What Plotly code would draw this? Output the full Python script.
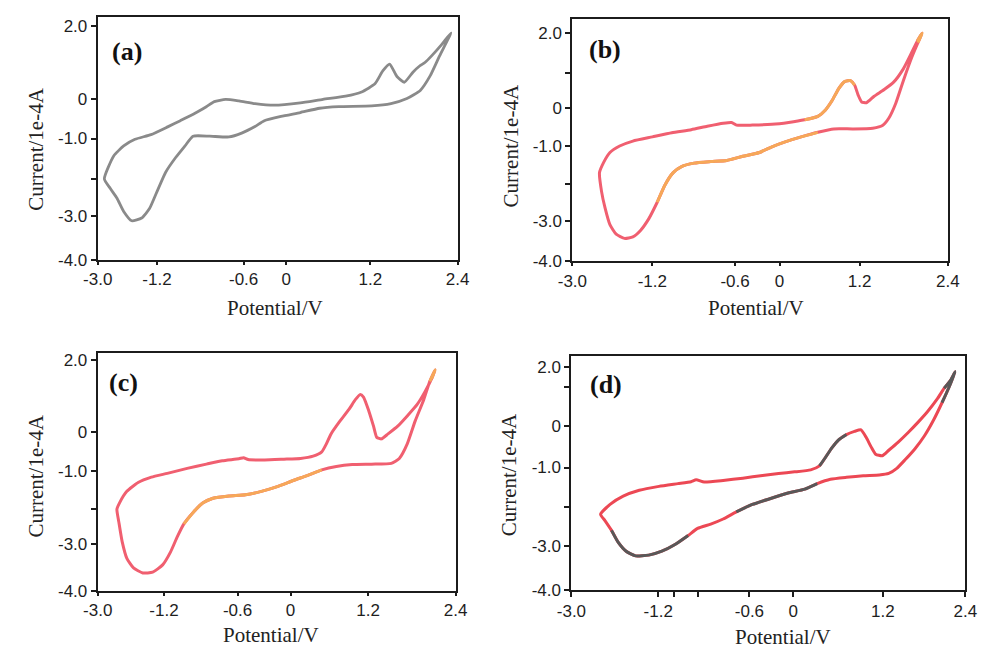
import plotly.graph_objects as go

# ---------------- cyclic voltammograms (potential in V, current in 1e-4 A) -------------
# (a) bare electrode
a_pot = [-2.90, -2.81, -2.71, -2.61, -2.49, -2.34, -2.22, -2.10, -1.98, -1.83, -1.69, -1.57,
         -1.32, -1.03, -0.84, -0.64, -0.50, -0.25, 0.04, 0.33, 0.62, 1.11, 1.40, 1.64, 1.84,
         1.99, 2.13, 2.30,
         2.16, 2.01, 1.91, 1.83, 1.73, 1.60, 1.49, 1.38, 1.28, 1.16, 0.96, 0.72, 0.38, 0.04,
         -0.35, -0.64, -0.88, -1.08, -1.25, -1.37, -1.54, -1.76, -1.95, -2.20, -2.44, -2.61,
         -2.76, -2.90]
a_cur = [-1.91, -2.16, -2.41, -2.75, -2.99, -2.92, -2.67, -2.20, -1.74, -1.36, -1.06, -0.81,
         -0.81, -0.83, -0.73, -0.56, -0.41, -0.30, -0.20, -0.09, -0.05, -0.03, 0.03, 0.16, 0.37,
         0.75, 1.26, 1.85,
         1.55, 1.26, 1.09, 1.00, 0.84, 0.58, 0.73, 1.05, 0.88, 0.54, 0.33, 0.22, 0.14, 0.05,
         -0.01, 0.03, 0.10, 0.14, 0.08, -0.05, -0.22, -0.41, -0.57, -0.77, -0.89, -1.06,
         -1.32, -1.91]

# (b)
b_pot = [-2.61, -2.58, -2.53, -2.46, -2.37, -2.25, -2.13, -2.02, -1.90, -1.78, -1.67, -1.55,
         -1.43, -1.25, -1.01, -0.78, -0.55, -0.31, -0.13, 0.06, 0.29, 0.53, 0.76, 1.04, 1.32,
         1.46, 1.55, 1.65, 1.76, 1.88, 1.97, 2.03,
         1.96, 1.88, 1.76, 1.62, 1.48, 1.34, 1.23, 1.16, 1.11, 1.06, 1.00, 0.92, 0.83, 0.74,
         0.64, 0.53, 0.34, 0.11, -0.13, -0.41, -0.64, -0.71, -0.83, -1.06, -1.29, -1.57,
         -1.85, -2.13, -2.32, -2.46, -2.55, -2.61]
b_cur = [-1.67, -2.17, -2.60, -3.04, -3.29, -3.40, -3.36, -3.19, -2.88, -2.45, -2.00, -1.67,
         -1.51, -1.42, -1.38, -1.35, -1.24, -1.14, -0.99, -0.86, -0.73, -0.61, -0.52, -0.52,
         -0.50, -0.43, -0.24, 0.15, 0.75, 1.36, 1.75, 2.00,
         1.79, 1.49, 1.06, 0.71, 0.51, 0.34, 0.17, 0.19, 0.37, 0.63, 0.75, 0.73, 0.54, 0.24,
         -0.02, -0.19, -0.28, -0.35, -0.40, -0.42, -0.42, -0.35, -0.37, -0.45, -0.54, -0.62,
         -0.73, -0.84, -0.97, -1.14, -1.40, -1.67]

# (c)
c_pot = [-2.71, -2.68, -2.63, -2.56, -2.46, -2.32, -2.17, -2.02, -1.90, -1.80, -1.70, -1.56,
         -1.41, -1.26, -1.02, -0.77, -0.53, -0.28, -0.04, 0.16, 0.38, 0.60, 0.84, 1.13, 1.43,
         1.55, 1.67, 1.79, 1.92, 2.01, 2.09,
         2.04, 1.94, 1.82, 1.67, 1.53, 1.38, 1.28, 1.21, 1.16, 1.09, 1.01, 0.96, 0.89, 0.79,
         0.64, 0.52, 0.45, 0.38, 0.25, 0.06, -0.19, -0.48, -0.73, -0.80, -0.87, -1.12, -1.36,
         -1.65, -1.95, -2.19, -2.39, -2.56, -2.67, -2.71]
c_cur = [-1.88, -2.22, -2.73, -3.16, -3.41, -3.54, -3.52, -3.33, -2.99, -2.60, -2.26, -1.96,
         -1.71, -1.59, -1.53, -1.50, -1.41, -1.28, -1.12, -1.00, -0.85, -0.76, -0.71, -0.70,
         -0.68, -0.55, -0.17, 0.43, 0.99, 1.46, 1.76,
         1.54, 1.20, 0.86, 0.56, 0.30, 0.09, -0.04, 0.00, 0.30, 0.69, 1.05, 1.12, 0.99, 0.73,
         0.39, 0.09, -0.17, -0.38, -0.49, -0.55, -0.57, -0.59, -0.58, -0.53, -0.56, -0.61,
         -0.70, -0.81, -0.94, -1.04, -1.18, -1.41, -1.71, -1.88]

# (d)
d_pot = [-2.60, -2.54, -2.45, -2.36, -2.25, -2.12, -1.94, -1.76, -1.58, -1.40, -1.27, -1.09,
         -0.92, -0.74, -0.52, -0.29, -0.03, 0.20, 0.37, 0.55, 0.77, 1.00, 1.22, 1.35, 1.46,
         1.57, 1.71, 1.84, 1.97, 2.08, 2.17, 2.26,
         2.20, 2.11, 2.02, 1.88, 1.75, 1.62, 1.48, 1.35, 1.26, 1.17, 1.11, 1.04, 0.97, 0.88,
         0.77, 0.66, 0.57, 0.48, 0.40, 0.28, 0.06, -0.16, -0.38, -0.65, -0.92, -1.18, -1.29,
         -1.36, -1.54, -1.80, -2.07, -2.29, -2.47, -2.60]
d_cur = [-2.07, -2.23, -2.48, -2.78, -3.01, -3.13, -3.11, -3.01, -2.84, -2.61, -2.43, -2.32,
         -2.19, -2.01, -1.82, -1.68, -1.53, -1.43, -1.29, -1.18, -1.13, -1.09, -1.07, -1.03,
         -0.90, -0.69, -0.40, -0.07, 0.35, 0.77, 1.14, 1.56,
         1.35, 1.14, 0.88, 0.54, 0.27, 0.02, -0.23, -0.44, -0.58, -0.54, -0.36, -0.11, 0.08,
         0.04, -0.04, -0.18, -0.38, -0.63, -0.84, -0.94, -0.99, -1.03, -1.08, -1.15, -1.21,
         -1.25, -1.19, -1.24, -1.29, -1.36, -1.46, -1.61, -1.82, -2.07]

# ---------------- axis tick labels ----------------
x_ticktext = ["-3.0", "-1.2", "-0.6", "0", "1.2", "2.4"]
a_xtickvals = [-3.0, -2.11, -0.81, -0.17, 1.09, 2.4]
b_xtickvals = [-3.0, -1.85, -0.66, -0.02, 1.13, 2.4]
c_xtickvals = [-3.0, -2.00, -0.89, -0.09, 1.08, 2.4]
d_xtickvals = [-3.0, -1.81, -1.59, -1.27, -0.56, 0.04, 1.27, 2.4]
d_xticktext = ["-3.0", "-1.2", "", "", "-0.6", "0", "1.2", "2.4"]

a_ytickvals = [2.02, 0.14, -0.87, -1.91, -2.87, -4.0]
a_yticktext = ["2.0", "0", "-1.0", "", "-3.0", "-4.0"]
b_ytickvals = [2.0, 0.96, 0.03, -0.98, -1.96, -2.94, -4.0]
b_yticktext = ["2.0", "", "0", "-1.0", "", "-3.0", "-4.0"]
c_ytickvals = [2.01, 0.13, -0.88, -1.86, -2.78, -4.0]
c_yticktext = ["2.0", "0", "-1.0", "", "-3.0", "-4.0"]
d_ytickvals = [1.68, 1.18, 0.18, -0.88, -1.88, -2.88, -4.0]
d_yticktext = ["2.0", "", "0", "-1.0", "", "-3.0", "-4.0"]

y_tops = {"a": 2.27, "b": 2.38, "c": 2.19, "d": 1.95}

RED = "rgb(240,95,112)"
RED_D = "rgb(236,72,84)"
ORANGE = "rgb(246,168,88)"
GRAY_A = "rgb(138,138,138)"
GRAY_D = "rgb(88,88,88)"

fig = go.Figure()


def add_curve(xs, ys, color, xa, ya, width=3):
    fig.add_trace(go.Scatter(x=xs, y=ys, mode="lines", xaxis=xa, yaxis=ya,
                             line=dict(color=color, width=width, shape="spline", smoothing=0.5),
                             showlegend=False, hoverinfo="skip"))


def add_sections(xs, ys, spans, color, xa, ya):
    for i0, i1 in spans:
        add_curve(xs[i0:i1 + 1], ys[i0:i1 + 1], color, xa, ya)


# (a)
add_curve(a_pot, a_cur, GRAY_A, "x", "y", width=2.8)
# (b)
add_curve(b_pot, b_cur, RED, "x2", "y2")
add_sections(b_pot, b_cur, [(9, 21), (41, 48), (30, 32)], ORANGE, "x2", "y2")
# (c)
add_curve(c_pot, c_cur, RED, "x3", "y3")
add_sections(c_pot, c_cur, [(10, 20), (29, 31)], ORANGE, "x3", "y3")
# (d)
add_curve(d_pot, d_cur, RED_D, "x4", "y4")
add_sections(d_pot, d_cur, [(2, 9), (13, 18), (46, 50), (29, 33)], GRAY_D, "x4", "y4")

# ---------------- layout ----------------
W, H = 990, 657
frames = {  # left, right, top, bottom in pixels
    "a": (85, 455, 15, 262.7),
    "b": (573, 959, 17, 264),
    "c": (85, 453, 358, 599.5),
    "d": (572, 977, 361, 599),
}
xticks = {"a": (a_xtickvals, x_ticktext), "b": (b_xtickvals, x_ticktext),
          "c": (c_xtickvals, x_ticktext), "d": (d_xtickvals, d_xticktext)}
yticks = {"a": (a_ytickvals, a_yticktext), "b": (b_ytickvals, b_yticktext),
          "c": (c_ytickvals, c_yticktext), "d": (d_ytickvals, d_yticktext)}

AX = "#1c1c1c"
tickfont = dict(family="Liberation Sans, Arial, sans-serif", size=17, color="#1e1e1e")
layout = dict(width=W, height=H, margin=dict(l=0, r=0, t=0, b=0),
              paper_bgcolor="white", plot_bgcolor="white", showlegend=False)

for k, key in enumerate(["a", "b", "c", "d"]):
    l, r, t, b = frames[key]
    sfx = "" if k == 0 else str(k + 1)
    layout["xaxis" + sfx] = dict(
        domain=[l / W, r / W], anchor="y" + sfx, range=[-3.0, 2.4],
        tickmode="array", tickvals=xticks[key][0], ticktext=xticks[key][1],
        ticks="outside", ticklen=5 if key == "d" else 3, tickwidth=1.5, tickcolor=AX,
        showline=True, linecolor=AX, linewidth=2, mirror=True,
        showgrid=False, zeroline=False, tickfont=tickfont, fixedrange=True)
    layout["yaxis" + sfx] = dict(
        domain=[1 - b / H, 1 - t / H], anchor="x" + sfx, range=[-4.0, y_tops[key]],
        tickmode="array", tickvals=yticks[key][0], ticktext=yticks[key][1],
        ticks="outside", ticklen=5, tickwidth=1.5, tickcolor=AX,
        showline=True, linecolor=AX, linewidth=2, mirror=True,
        showgrid=False, zeroline=False, tickfont=tickfont, fixedrange=True)

serif = "Liberation Serif, Times New Roman, serif"
annotations = []
panel_pos = {"(a)": (115, 50), "(b)": (607, 48), "(c)": (112, 388), "(d)": (608, 390)}
for txt, (px, py) in panel_pos.items():
    annotations.append(dict(text="<b>" + txt + "</b>", x=px / W, y=1 - py / H, xref="paper",
                            yref="paper", showarrow=False, xanchor="center", yanchor="middle",
                            font=dict(family=serif, size=26, color="#111")))
for px, py in [(267, 312), (762, 312), (263, 645), (790, 647)]:
    annotations.append(dict(text="Potential/V", x=px / W, y=1 - py / H, xref="paper",
                            yref="paper", showarrow=False, xanchor="center", yanchor="middle",
                            font=dict(family=serif, size=21, color="#222")))
for px, py in [(22, 150), (510, 147), (22, 483), (508, 482)]:
    annotations.append(dict(text="Current/1e-4A", x=px / W, y=1 - py / H, xref="paper",
                            yref="paper", showarrow=False, xanchor="center", yanchor="middle",
                            textangle=-90, font=dict(family=serif, size=21, color="#222")))
layout["annotations"] = annotations

fig.update_layout(**layout)
fig.write_html("out.html")
